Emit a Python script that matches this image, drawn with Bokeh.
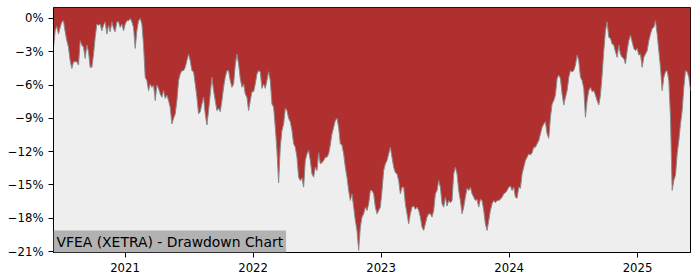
import pandas as pd
from bokeh.plotting import figure
from bokeh.models import Range1d, FixedTicker, DatetimeTickFormatter, Label, ColumnDataSource
from bokeh.embed import file_html
from bokeh.resources import INLINE

START = "2020-06-11"
END = "2025-06-01"
drawdown = [
    -2.6, -1.1, -0.7, -1.4, -0.8, -0.3, -0.2, -1.2, -2.0, -2.6,
    -3.8, -4.5, -3.9, -3.9, -3.9, -4.2, -2.0, -2.4, -2.6, -3.6,
    -2.4, -3.0, -4.4, -4.4, -3.2, -1.7, -0.5, -0.6, -0.5, -1.1,
    -0.6, -0.3, -1.4, -0.6, -1.2, -0.3, -0.9, -1.2, -0.3, -0.3,
    -0.8, -0.5, -1.1, -0.5, -0.2, -0.2, 0.0, -0.3, -0.8, -2.7,
    -1.1, -0.2, 0.0, -0.5, -2.4, -5.3, -5.6, -6.5, -5.9, -6.2,
    -6.0, -7.4, -6.0, -6.3, -6.8, -7.1, -6.5, -7.2, -6.9, -7.4,
    -8.0, -9.5, -9.0, -8.6, -7.4, -5.6, -5.0, -4.7, -4.7, -4.4,
    -3.8, -3.2, -3.8, -4.7, -4.8, -5.9, -7.1, -8.6, -8.4, -7.7,
    -7.1, -8.6, -9.6, -8.3, -6.8, -5.3, -6.5, -7.4, -8.3, -8.1,
    -8.4, -7.4, -6.2, -5.3, -4.7, -4.7, -5.6, -6.2, -5.9, -4.2,
    -3.2, -4.1, -5.4, -6.2, -5.9, -6.8, -7.1, -8.3, -7.4, -6.6,
    -6.6, -5.9, -5.0, -4.7, -4.8, -6.3, -5.9, -6.3, -5.6, -4.8,
    -5.6, -7.7, -8.0, -9.8, -11.9, -14.8, -11.6, -10.1, -9.5, -8.1,
    -8.3, -9.0, -9.3, -10.1, -11.3, -11.6, -12.5, -14.3, -14.6, -14.4,
    -15.2, -12.8, -12.2, -11.9, -12.8, -14.0, -14.3, -13.4, -13.7, -12.1,
    -13.1, -13.0, -12.8, -12.5, -12.5, -12.2, -11.4, -10.4, -9.8, -9.2,
    -9.0, -9.8, -11.3, -11.4, -12.2, -13.4, -14.3, -15.5, -16.4, -15.8,
    -17.0, -18.2, -19.1, -20.9, -18.8, -17.9, -17.6, -17.0, -17.3, -16.7,
    -15.5, -15.5, -15.8, -17.0, -17.6, -17.3, -17.0, -15.5, -13.7, -13.1,
    -12.8, -12.2, -11.6, -12.5, -13.4, -13.9, -14.0, -14.6, -15.8, -15.2,
    -15.2, -16.7, -17.6, -18.5, -17.6, -17.0, -16.9, -17.2, -17.0, -17.3,
    -17.9, -18.8, -19.1, -18.5, -17.9, -17.6, -17.6, -17.9, -17.3, -15.8,
    -15.5, -14.6, -15.2, -16.7, -17.0, -16.1, -16.9, -16.4, -16.6, -16.4,
    -14.0, -13.4, -14.0, -15.5, -16.4, -17.6, -17.0, -16.1, -15.3, -15.5,
    -15.2, -15.8, -16.1, -16.4, -16.3, -17.0, -16.3, -16.4, -17.3, -18.5,
    -19.1, -18.2, -17.3, -16.7, -16.4, -16.6, -16.4, -16.4, -16.3, -16.1,
    -15.8, -15.7, -15.5, -15.2, -15.1, -15.5, -15.2, -16.1, -16.2, -15.2,
    -15.3, -14.0, -13.4, -12.8, -12.5, -12.2, -12.3, -12.1, -11.6, -11.6,
    -11.3, -11.0, -10.4, -9.8, -9.5, -9.3, -10.4, -10.8, -8.9, -7.7,
    -7.4, -6.9, -5.4, -5.1, -5.4, -6.8, -7.8, -7.1, -6.5, -5.3,
    -4.7, -4.8, -4.7, -4.2, -3.3, -3.8, -5.3, -5.6, -6.3, -8.9,
    -7.4, -6.5, -6.2, -6.6, -6.5, -6.9, -7.4, -7.8, -6.9, -5.1,
    -2.9, -1.1, -0.3, -1.7, -1.8, -2.3, -2.4, -3.0, -3.5, -2.4,
    -3.2, -3.5, -3.6, -4.1, -2.9, -2.0, -1.5, -2.1, -2.7, -2.9,
    -2.7, -3.3, -3.2, -4.4, -3.5, -3.2, -2.9, -2.0, -1.4, -0.9,
    -0.8, -0.2, -1.4, -2.9, -4.4, -6.5, -5.3, -4.8, -4.7, -5.6,
    -8.9, -15.5, -14.6, -14.1, -12.2, -11.0, -9.5, -8.3, -6.2, -4.7,
    -4.8, -5.3, -6.5,
]
dates = pd.date_range(START, END, periods=len(drawdown))

y_ticks = [0, -3, -6, -9, -12, -15, -18, -21]
y_labels = ["0%", "\u22123%", "\u22126%", "\u22129%", "\u221212%", "\u221215%", "\u221218%", "\u221221%"]
x_tick_years = [2021, 2022, 2023, 2024, 2025]
title_text = "VFEA (XETRA) - Drawdown Chart"

Y_MIN, Y_MAX = -21.09, 0.99
RED = "#b03030"

src = ColumnDataSource(dict(date=dates, dd=drawdown, top=[Y_MAX] * len(drawdown)))

p = figure(width=700, height=280, x_axis_type="datetime",
           output_backend="svg", toolbar_location=None,
           x_range=Range1d(dates[0], dates[-1]), y_range=Range1d(Y_MIN, Y_MAX),
           min_border_left=53, min_border_right=10, min_border_top=7, min_border_bottom=28)

p.background_fill_color = "#eeeeee"
p.border_fill_color = "white"
p.outline_line_color = "black"
p.outline_line_width = 1
p.xgrid.visible = False
p.ygrid.visible = False

p.varea(x="date", y1="dd", y2="top", source=src, fill_color=RED)
p.line(x="date", y="dd", source=src, line_color="#8a8a8a", line_width=1)

p.yaxis.ticker = FixedTicker(ticks=y_ticks)
p.yaxis.major_label_overrides = {t: l for t, l in zip(y_ticks, y_labels)}
xt = [pd.Timestamp(f"{y}-01-01").value / 1e6 for y in x_tick_years]
p.xaxis.ticker = FixedTicker(ticks=xt)
p.xaxis.formatter = DatetimeTickFormatter(years="%Y", months="%Y", days="%Y", hours="%Y")

for ax in (p.xaxis, p.yaxis):
    ax.major_label_text_font = "DejaVu Sans"
    ax.major_label_text_font_size = "11.7px"
    ax.major_label_text_color = "black"
    ax.axis_line_color = "black"
    ax.major_tick_line_color = "black"
    ax.major_tick_out = 5
    ax.major_tick_in = 0
    ax.minor_tick_line_color = None
    ax.major_label_standoff = 5

lab = Label(x=dates[0], y=Y_MIN, text=title_text, text_font="DejaVu Sans",
            text_font_size="13.9px", text_color="black",
            text_align="left", text_baseline="bottom",
            background_fill_color="#b2b2b2", padding=3)
p.add_layout(lab)

open("out.html", "w").write(file_html(p, INLINE))
